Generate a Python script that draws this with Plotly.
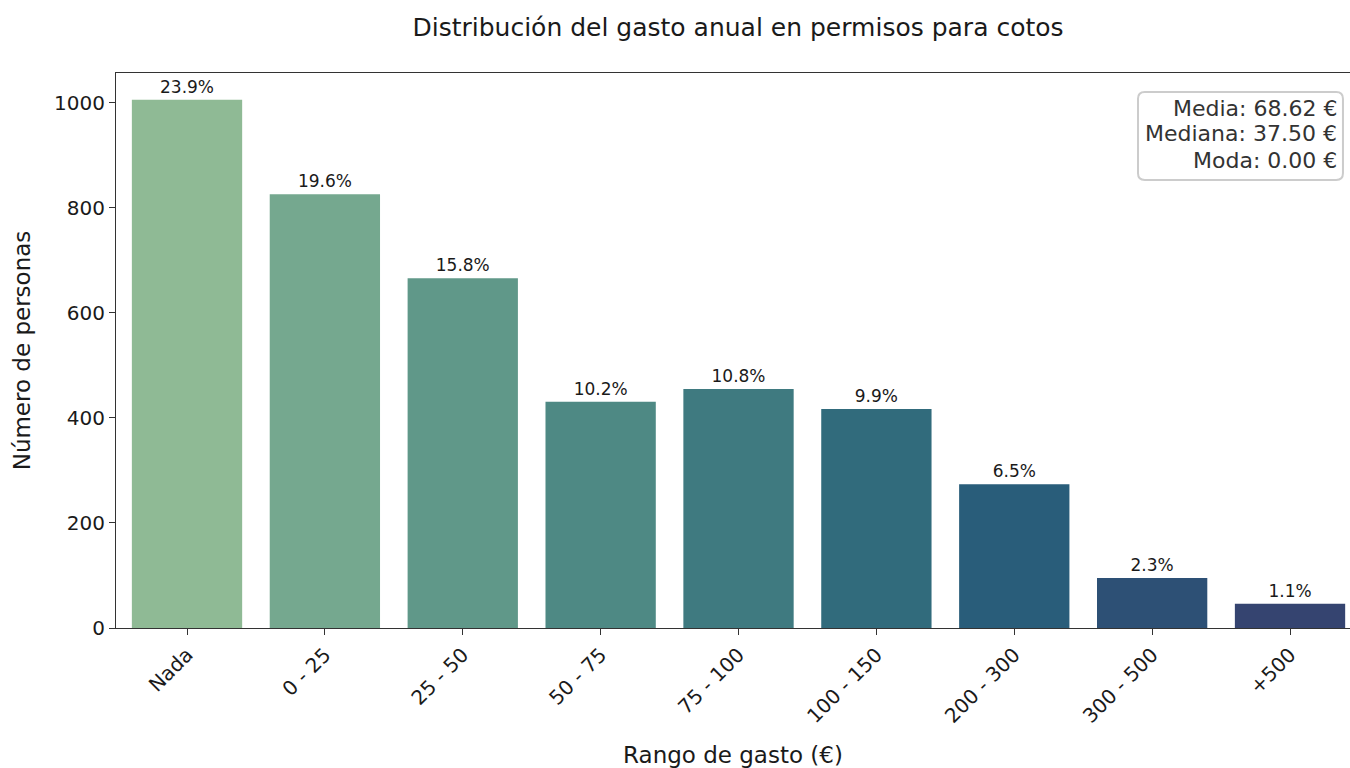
import plotly.graph_objects as go

categories = ["Nada", "0 - 25", "25 - 50", "50 - 75", "75 - 100", "100 - 150", "200 - 300", "300 - 500", "+500"]
counts = [1006, 826, 666, 431, 455, 417, 274, 95, 46]
pct_labels = ["23.9%", "19.6%", "15.8%", "10.2%", "10.8%", "9.9%", "6.5%", "2.3%", "1.1%"]
colors = ["#8fba95", "#75a88f", "#609889", "#4e8984", "#3f7a80", "#316b7c", "#295d7a", "#2d5075", "#354470"]
stats_lines = ["Media: 68.62 €", "Mediana: 37.50 €", "Moda: 0.00 €"]

FONT = "DejaVu Sans"
TXT = "#1a1a1a"

fig = go.Figure(go.Bar(
    x=categories, y=counts, marker=dict(color=colors, line=dict(width=0)),
    width=0.8, text=pct_labels, textposition="outside", cliponaxis=False,
    textfont=dict(family=FONT, size=17, color=TXT),
))

fig.update_layout(
    width=1350, height=768,
    margin=dict(l=116, r=0, t=73, b=140),
    plot_bgcolor="white", paper_bgcolor="white",
    font=dict(family=FONT, color=TXT),
    title=dict(text="Distribución del gasto anual en permisos para cotos", x=0.5467, xanchor="center",
               y=0.965, yanchor="middle", font=dict(family=FONT, size=25, color=TXT)),
    showlegend=False,
    xaxis=dict(range=[-0.515, 8.435], showline=True, linecolor="#333333", linewidth=1.2, mirror=True,
               ticks="outside", ticklen=6, tickcolor="#333333", tickangle=-45,
               tickfont=dict(family=FONT, size=20, color=TXT), showgrid=False,
               title=dict(text="Rango de gasto (€)", font=dict(family=FONT, size=23, color=TXT), standoff=20)),
    yaxis=dict(range=[0, 1057], showline=True, linecolor="#333333", linewidth=1.2,
               ticks="outside", ticklen=6, tickcolor="#333333", tickvals=[0, 200, 400, 600, 800, 1000],
               tickfont=dict(family=FONT, size=20, color=TXT), showgrid=False, zeroline=False,
               title=dict(text="Número de personas", font=dict(family=FONT, size=23, color=TXT), standoff=16)),
)

# rounded stats box (paper coordinates)
x0, x1, y0, y1 = 0.8282, 0.9943, 0.8072, 0.9658
rx, ry = 0.0055, 0.012
path = (f"M {x0+rx},{y0} L {x1-rx},{y0} Q {x1},{y0} {x1},{y0+ry} L {x1},{y1-ry} Q {x1},{y1} {x1-rx},{y1} "
        f"L {x0+rx},{y1} Q {x0},{y1} {x0},{y1-ry} L {x0},{y0+ry} Q {x0},{y0} {x0+rx},{y0} Z")
fig.add_shape(type="path", path=path, xref="paper", yref="paper",
              line=dict(color="#cccccc", width=2), fillcolor="rgba(255,255,255,0.85)", layer="above")

line_y = [0.9369, 0.8901, 0.8432]
for txt, yy in zip(stats_lines, line_y):
    fig.add_annotation(
        text=txt, xref="paper", yref="paper", x=0.9905, y=yy, xanchor="right", yanchor="middle",
        align="right", showarrow=False, font=dict(family=FONT, size=22, color="#333333"), borderpad=0,
    )

fig.write_html("out.html", config={"displayModeBar": False},
               post_script="document.body.style.margin='0';document.body.style.overflow='hidden';")
